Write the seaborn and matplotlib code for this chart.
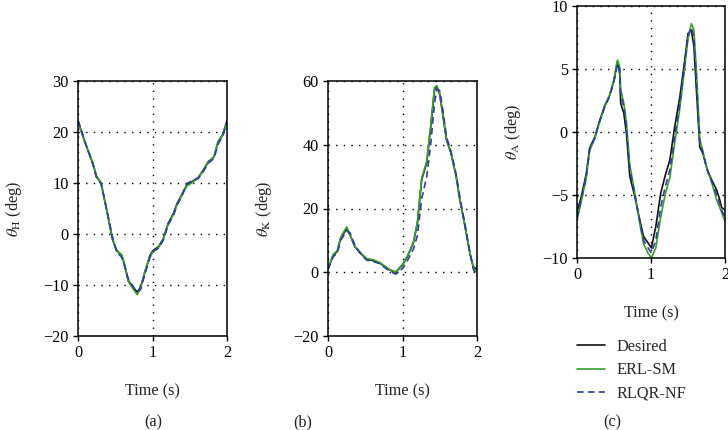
import numpy as np
import pandas as pd
import matplotlib
matplotlib.use("Agg")
import matplotlib.pyplot as plt
import seaborn as sns
from matplotlib.lines import Line2D

# ---------------- data ----------------
# Panel (a): hip angle
tH = [0.0, 0.09, 0.20, 0.25, 0.31, 0.385, 0.465, 0.52, 0.585, 0.62, 0.675, 0.74, 0.795,
      0.84, 0.90, 0.965, 1.01, 1.08, 1.145, 1.21, 1.28, 1.33, 1.39, 1.46, 1.525, 1.615,
      1.68, 1.75, 1.825, 1.88, 1.94, 2.0]
H_des = [22.2, 18.1, 13.8, 11.2, 10.0, 4.7, -1.2, -3.2, -4.2, -5.8, -9.1, -10.5, -11.4,
         -10.4, -7.4, -4.2, -3.2, -2.5, -0.9, 2.1, 4.0, 6.0, 7.6, 9.6, 10.2, 11.1,
         12.5, 14.2, 15.1, 18.1, 19.4, 22.2]
H_erl = [22.0, 18.0, 13.9, 11.3, 10.1, 4.6, -1.0, -3.4, -4.0, -5.6, -9.3, -10.8, -11.9,
         -10.6, -7.2, -4.4, -3.5, -2.7, -1.0, 1.9, 3.8, 5.8, 7.5, 9.4, 10.0, 11.0,
         12.4, 14.0, 15.2, 18.0, 19.3, 22.0]
H_rlqr = [22.3, 18.3, 13.6, 11.0, 9.8, 4.9, -0.8, -3.6, -4.5, -6.0, -8.8, -10.3, -11.3,
          -10.9, -7.8, -4.6, -3.3, -2.8, -1.2, 1.8, 3.6, 5.7, 7.3, 9.9, 10.4, 10.9,
          12.2, 13.9, 14.8, 17.6, 19.1, 22.0]

# Panel (b): knee angle
tK = [0.0, 0.07, 0.125, 0.17, 0.25, 0.295, 0.36, 0.45, 0.52, 0.61, 0.70, 0.765, 0.83,
      0.91, 1.0, 1.065, 1.145, 1.2, 1.257, 1.325, 1.38, 1.43, 1.46, 1.5, 1.55, 1.59,
      1.65, 1.72, 1.77, 1.84, 1.905, 1.95, 2.0]
K_des = [1.2, 5.4, 6.5, 10.7, 13.6, 11.7, 8.0, 5.6, 4.1, 3.6, 2.8, 1.7, 0.7,
         0.0, 2.3, 4.9, 9.1, 15.4, 29.0, 34.3, 45.8, 57.4, 58.3, 55.8, 47.9, 41.6,
         37.4, 30.1, 22.7, 14.3, 5.9, 1.7, 0.9]
K_erl = [1.0, 5.6, 6.8, 11.0, 14.2, 11.9, 8.2, 5.8, 4.3, 3.9, 3.0, 1.9, 0.8,
         0.1, 2.5, 5.1, 9.3, 15.8, 29.5, 34.8, 46.3, 57.9, 58.6, 56.2, 48.3, 41.9,
         37.6, 30.3, 22.9, 14.5, 6.0, 1.5, -0.2]
K_rlqr = [0.8, 4.9, 6.0, 10.0, 12.9, 12.4, 8.5, 5.3, 3.8, 3.4, 2.6, 1.4, 0.3,
          -0.6, 1.2, 3.6, 7.2, 11.5, 23.0, 30.0, 40.5, 53.0, 57.4, 57.0, 49.5, 42.5,
          38.0, 30.8, 23.5, 14.8, 6.2, 1.0, -1.4]

# Panel (c): ankle angle
tA = [0.0, 0.059, 0.126, 0.17, 0.24, 0.307, 0.375, 0.44, 0.50, 0.546, 0.578, 0.59,
      0.632, 0.668, 0.713, 0.78, 0.849, 0.90, 0.96, 1.005, 1.065, 1.13, 1.19, 1.255,
      1.32, 1.39, 1.445, 1.50, 1.545, 1.58, 1.616, 1.66, 1.70, 1.76, 1.82, 1.887,
      1.93, 1.955, 2.0]
A_des = [-6.4, -5.1, -3.3, -1.3, -0.4, 0.9, 2.1, 2.9, 4.1, 5.6, 4.6, 2.3,
         1.5, -0.1, -3.5, -5.1, -7.0, -8.3, -8.8, -9.2, -7.5, -4.9, -3.5, -2.2,
         0.4, 2.8, 5.2, 7.8, 8.1, 6.8, 3.1, -1.2, -1.7, -3.0, -3.8, -4.6,
         -5.4, -6.0, -6.2]
A_erl = [-7.0, -5.5, -3.6, -1.5, -0.5, 0.8, 2.0, 2.9, 4.2, 5.7, 5.2, 3.4,
         2.3, 0.8, -2.6, -4.8, -7.3, -8.9, -9.6, -10.0, -9.2, -6.8, -5.0, -3.6,
         -0.9, 1.9, 4.6, 7.4, 8.6, 8.1, 4.6, -0.6, -1.5, -3.0, -4.0, -5.4,
         -6.0, -6.4, -7.1]
A_rlqr = [-6.8, -5.3, -3.5, -1.4, -0.5, 0.9, 2.0, 2.8, 4.0, 5.4, 4.9, 3.0,
          2.0, 0.4, -3.0, -4.9, -7.1, -8.6, -9.2, -9.6, -8.6, -6.0, -4.4, -3.0,
          -0.3, 2.3, 4.9, 7.6, 8.3, 7.5, 3.8, -0.9, -1.6, -3.0, -3.9, -5.0,
          -5.7, -6.2, -6.8]

series_names = ["Desired", "ERL-SM", "RLQR-NF"]
colors = {"Desired": "#111111", "ERL-SM": "#3c9e32", "RLQR-NF": "#2e3f9a"}
dashes = {"Desired": "", "ERL-SM": "", "RLQR-NF": (4, 2.5)}

panels = [
    (tH, [H_des, H_erl, H_rlqr], r"$\theta_{\mathrm{H}}$ (deg)", (-20, 30), [-20, -10, 0, 10, 20, 30], "(a)"),
    (tK, [K_des, K_erl, K_rlqr], r"$\theta_{\mathrm{K}}$ (deg)", (-20, 60), [-20, 0, 20, 40, 60], "(b)"),
    (tA, [A_des, A_erl, A_rlqr], r"$\theta_{\mathrm{A}}$ (deg)", (-10, 10), [-10, -5, 0, 5, 10], "(c)"),
]
xticks = [0, 1, 2]

# ---------------- style ----------------
sns.set_theme(style="ticks")
plt.rcParams["font.family"] = ["Liberation Serif", "DejaVu Serif"]
plt.rcParams["mathtext.fontset"] = "stix"
plt.rcParams["axes.unicode_minus"] = True

W, Hh = 728, 430
fig = plt.figure(figsize=(W / 100, Hh / 100), dpi=100)

# axes rectangles in pixel units: left, top, right, bottom
rects = [(78, 81, 227, 336), (328, 81, 477, 336), (577, 6, 725, 258)]
label_pos = [(153, 422), (303, 422), (612, 422)]

fs = 11.7
axes = []
for (t, ys, ylab, ylim, yticks, tag), (l, tp, r, b), (lx, ly) in zip(panels, rects, label_pos):
    ax = fig.add_axes([l / W, 1 - b / Hh, (r - l) / W, (b - tp) / Hh])
    frames = []
    for name, y in zip(series_names, ys):
        frames.append(pd.DataFrame({"t": t, "y": y, "series": name}))
    df = pd.concat(frames, ignore_index=True)
    sns.lineplot(data=df, x="t", y="y", hue="series", style="series",
                 palette=colors, dashes=dashes, hue_order=series_names,
                 style_order=series_names, linewidth=1.2, ax=ax, legend=False,
                 sort=False, estimator=None)
    ax.set_xlim(0, 2)
    ax.set_ylim(*ylim)
    ax.set_xticks(xticks)
    ax.set_yticks(yticks)
    ax.grid(True, color="black", linestyle=(0, (1, 4.5)), linewidth=1.0)
    for s in ax.spines.values():
        s.set_visible(True)
        s.set_color("black")
        s.set_linewidth(1.1)
    ax.tick_params(direction="out", length=3.5, width=1.0, colors="black",
                   labelsize=fs, pad=3)
    ax.set_xlabel("Time (s)", fontsize=fs, labelpad=16, color="#222222")
    ax.set_ylabel(ylab, fontsize=fs, labelpad=14, color="#222222")
    fig.text(lx / W, 1 - ly / Hh, tag, ha="center", va="center", fontsize=fs, color="#222222")
    axes.append(ax)

# legend below panel (c)
handles = [Line2D([], [], color=colors[n], linewidth=1.2,
                  linestyle="-" if n != "RLQR-NF" else (0, (4, 2.5))) for n in series_names]
fig.legend(handles, series_names, loc="upper left",
           bbox_to_anchor=(577 / W, 1 - 339 / Hh), frameon=False, fontsize=fs,
           borderpad=0, borderaxespad=0, handlelength=1.75, handletextpad=0.65,
           labelspacing=0.45)

fig.savefig("out.png", dpi=100)
